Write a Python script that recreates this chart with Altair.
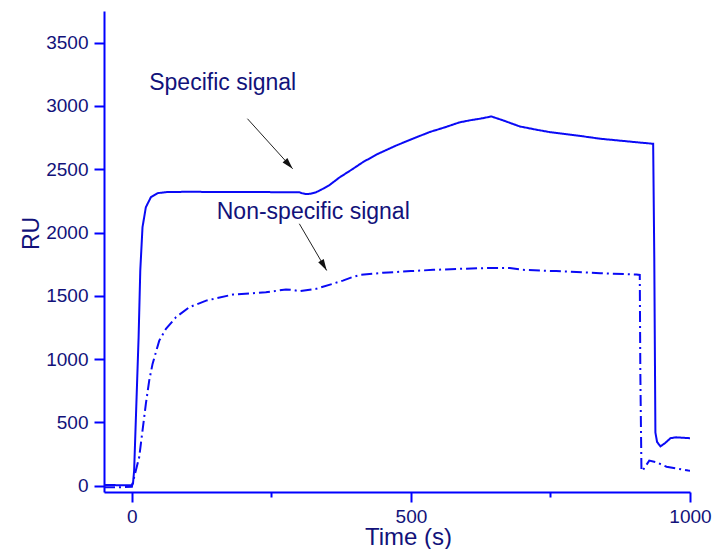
import altair as alt
import pandas as pd

# ---- data ----
spec_t = [-50, -20, 0, 2, 4, 8, 12, 15, 19, 25, 34, 46, 61, 100, 150, 200, 250, 300, 305, 312,
          320, 330, 340, 354, 372, 395, 414, 440, 474, 500, 533, 560, 587, 605, 625, 644, 665,
          695, 725, 749, 800, 839, 900, 934, 936, 938, 941, 947, 955, 965, 975, 1000]
spec_ru = [5, 4, 3, 20, 119, 646, 1172, 1700, 2042, 2200, 2279, 2311, 2319, 2322, 2320, 2321, 2319, 2318, 2310, 2304,
           2306, 2318, 2340, 2375, 2435, 2500, 2556, 2620, 2688, 2735, 2793, 2830, 2870, 2886, 2900, 2917, 2886,
           2838, 2812, 2793, 2765, 2741, 2715, 2701, 1800, 420, 345, 311, 335, 375, 382, 375]

nons_t = [-50, -20, 0, 1, 4, 13, 19, 25, 31, 37, 49, 61, 79, 103, 133, 181, 240, 276, 290, 300,
          330, 360, 378, 396, 410, 450, 500, 540, 587, 640, 677, 700, 760, 839, 904, 910, 911, 913,
          915, 927, 940, 958, 997, 1000]
nons_ru = [-12, -12, -8, 15, 66, 224, 435, 646, 830, 962, 1146, 1239, 1331, 1410, 1462, 1510, 1528, 1550, 1545, 1536,
           1555, 1595, 1620, 1650, 1665, 1682, 1695, 1705, 1713, 1720, 1720, 1705, 1695, 1679, 1668, 1665, 900, 119,
           119, 198, 184, 150, 119, 118]

x_ticks = [0, 250, 500, 750, 1000]
y_ticks = [0, 250, 500, 750, 1000, 1250, 1500, 1750, 2000, 2250, 2500, 2750, 3000, 3250, 3500, 3750]

ann_text = ["Specific signal", "Non-specific signal"]
ann_t = [31, 152]
ann_ru = [3128, 2108]

arrow_t0 = [207, 300]
arrow_ru0 = [2899, 2069]
arrow_t1 = [288, 349]
arrow_ru1 = [2504, 1700]
arrow_angle = [138, 150]

# ---- tables ----
lines = pd.concat([
    pd.DataFrame({"t": spec_t, "ru": spec_ru, "series": "Specific"}),
    pd.DataFrame({"t": nons_t, "ru": nons_ru, "series": "Non-specific"}),
])
ann = pd.DataFrame({"t": ann_t, "ru": ann_ru, "text": ann_text})
arrows = pd.DataFrame({"t": arrow_t0, "ru": arrow_ru0, "t2": arrow_t1, "ru2": arrow_ru1,
                       "ang": arrow_angle})
heads = pd.DataFrame({"t": arrow_t1, "ru": arrow_ru1, "ang": arrow_angle})

BLUE = "#0000ff"
LINE = "#0a0af5"
NAVY = "#12127a"
FONT = "Liberation Sans"

tick_cond = {"condition": {"test": "datum.value % 500 === 0", "value": 10}, "value": 5}
lab_expr = "datum.value % 500 === 0 ? datum.label : ''"

x_axis = alt.Axis(values=x_ticks, title="Time (s)", format="d", grid=False,
                  labelExpr=lab_expr, labelFontSize=19, labelColor=NAVY, labelFont=FONT,
                  labelFlush=False, labelOverlap=False, labelPadding=5,
                  domainColor=BLUE, domainWidth=2, tickColor=BLUE, tickWidth=2, tickSize=tick_cond,
                  titleFont=FONT, titleFontSize=24, titleColor=NAVY, titleFontWeight="normal",
                  titleX=304, titleY=52, titleBaseline="alphabetic", titleAlign="center")
y_axis = alt.Axis(values=y_ticks, title="RU", format="d", grid=False,
                  labelExpr=lab_expr, labelFontSize=19, labelColor=NAVY, labelFont=FONT,
                  labelFlush=False, labelOverlap=False, labelPadding=6,
                  domainColor=BLUE, domainWidth=2, tickColor=BLUE, tickWidth=2, tickSize=tick_cond,
                  titleFont=FONT, titleFontSize=23, titleColor=NAVY, titleFontWeight="normal",
                  titleX=-66, titleY=222, titleBaseline="alphabetic", titleAlign="center", titleAngle=270)

xs = alt.Scale(domain=[-50, 1000], nice=False, zero=False)
ys = alt.Scale(domain=[-50, 3750], nice=False, zero=False)

line_layer = alt.Chart(lines).mark_line(strokeWidth=2, color=LINE).encode(
    x=alt.X("t:Q", scale=xs, axis=x_axis),
    y=alt.Y("ru:Q", scale=ys, axis=y_axis),
    detail="series:N",
    strokeDash=alt.StrokeDash("series:N", scale=alt.Scale(
        domain=["Specific", "Non-specific"], range=[[1, 0], [11, 4, 2, 4]]), legend=None),
)

text_layer = alt.Chart(ann).mark_text(align="left", baseline="alphabetic", fontSize=23,
                                      font=FONT, color=NAVY).encode(
    x="t:Q", y="ru:Q", text="text:N")

shaft_layer = alt.Chart(arrows).mark_rule(color="#222222", strokeWidth=1).encode(
    x="t:Q", y="ru:Q", x2="t2:Q", y2="ru2:Q")

head_layer = alt.Chart(heads).mark_point(shape="M0,0L-0.28,1L0.28,1Z", size=520, filled=True,
                                         opacity=1, color="#111111").encode(
    x="t:Q", y="ru:Q", angle=alt.Angle("ang:Q", scale=None))

chart = alt.layer(line_layer, shaft_layer, head_layer, text_layer).properties(
    width=586, height=481,
    autosize=alt.AutoSizeParams(type="none"),
    padding={"left": 96, "top": 3, "right": 22, "bottom": 57},
    background="white",
).configure_view(stroke=None)

chart.save("out.html", embed_options={"renderer": "svg", "actions": False})
